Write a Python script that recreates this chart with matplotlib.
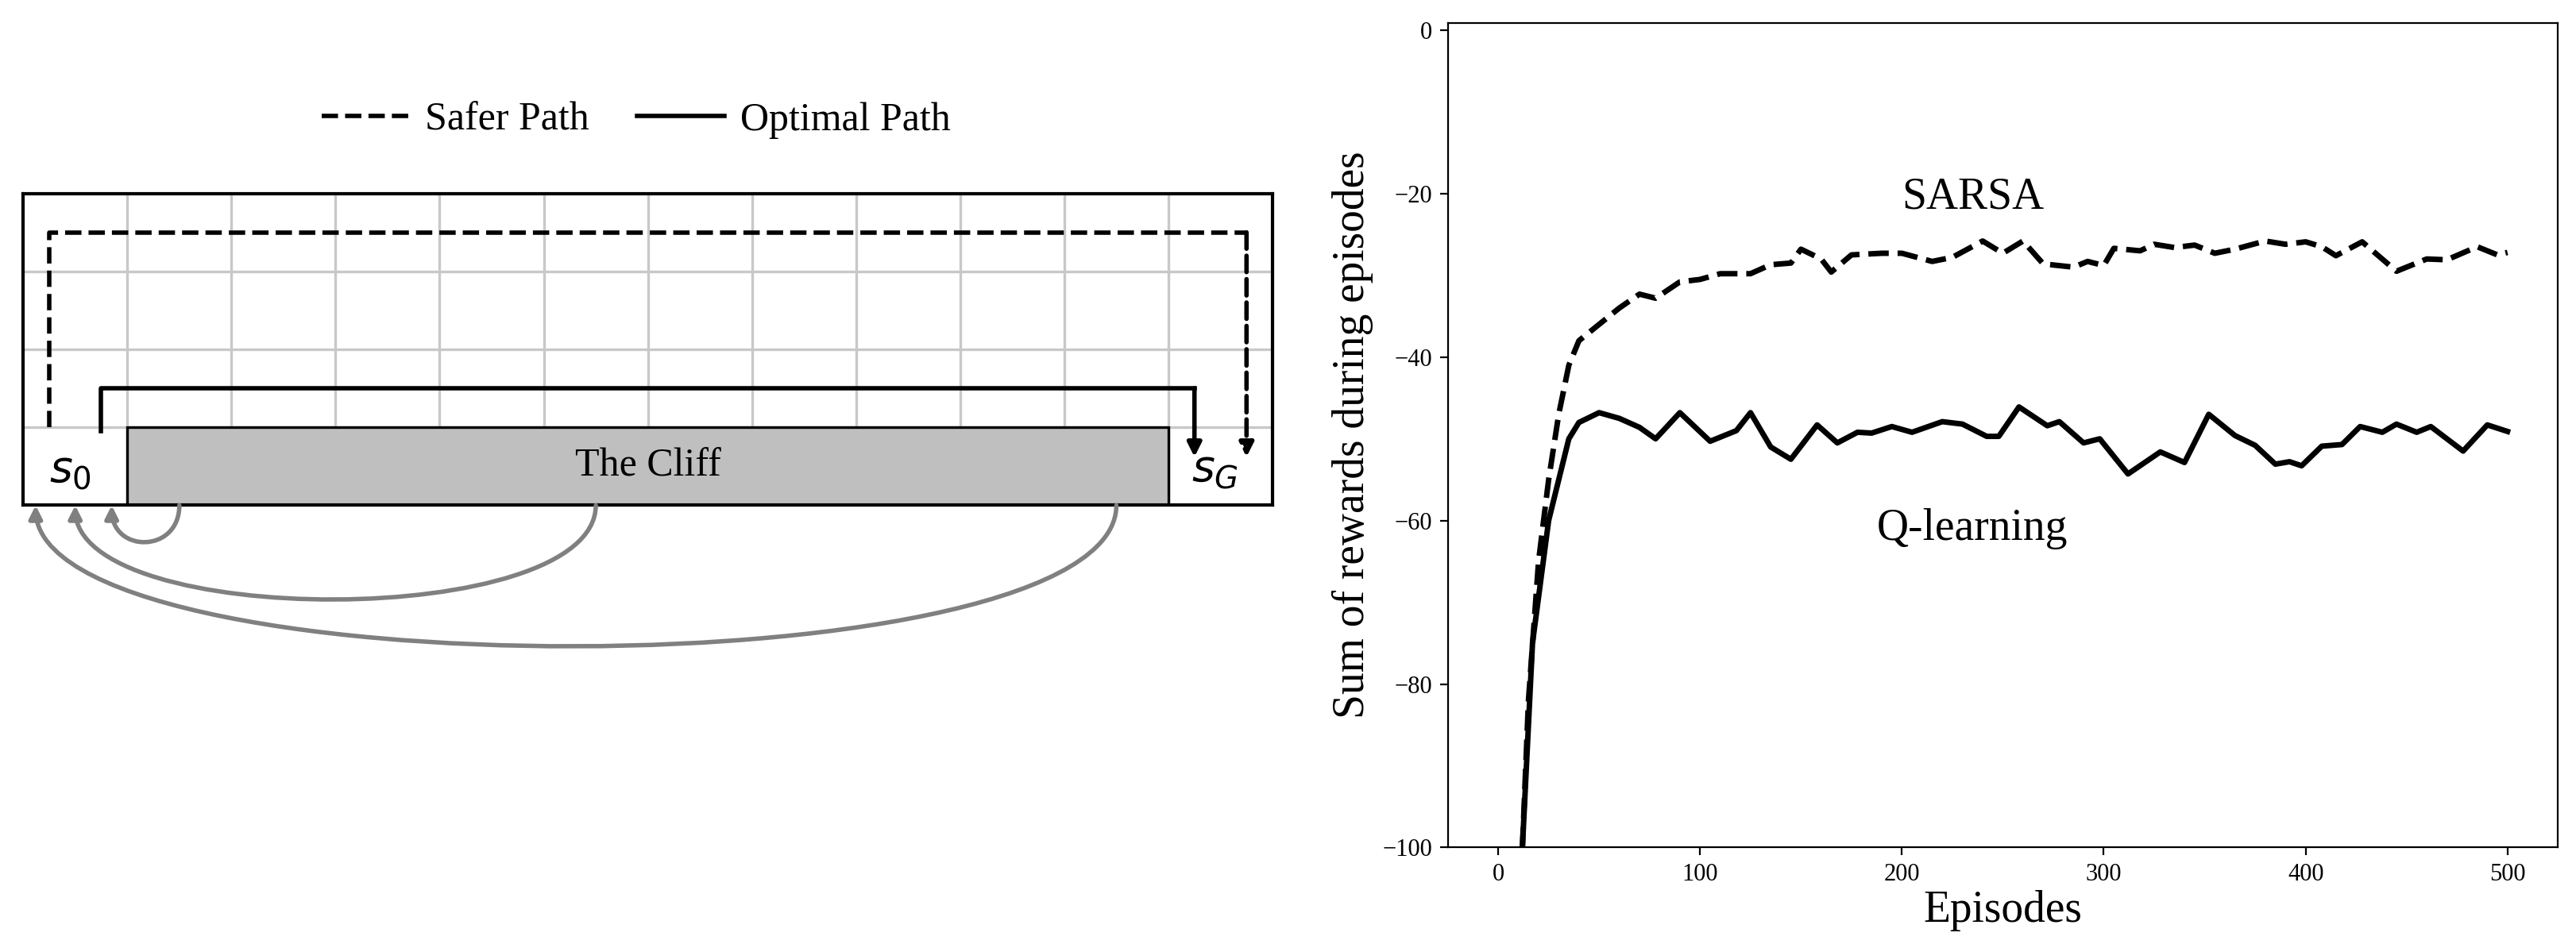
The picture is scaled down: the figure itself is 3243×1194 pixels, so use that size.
import matplotlib
matplotlib.use('Agg')
import matplotlib.pyplot as plt
from matplotlib.patches import Rectangle, FancyArrowPatch
from matplotlib.path import Path
from matplotlib.lines import Line2D

plt.rcParams['font.family'] = ['Liberation Serif', 'DejaVu Serif']
plt.rcParams['mathtext.fontset'] = 'dejavusans'

# ---------------------------------------------------------------------------
# Data
# ---------------------------------------------------------------------------
sarsa_ep = [12, 15, 20, 25, 30, 35, 40, 50, 60, 70, 78, 90, 100, 110, 125, 135,
            145, 150, 160, 165, 175, 190, 200, 215, 225, 240, 250, 260, 270, 285,
            292, 300, 305, 318, 325, 335, 345, 355, 365, 380, 390, 400, 408, 415,
            428, 445, 460, 470, 485, 495, 500]
sarsa_val = [-100, -82, -65, -55, -47, -41, -38, -36, -34, -32.3, -32.8, -30.8,
             -30.5, -29.8, -29.8, -28.7, -28.5, -26.8, -28, -29.6, -27.5, -27.3,
             -27.3, -28.3, -27.8, -25.8, -27.3, -25.8, -28.6, -29, -28.3, -28.8,
             -26.7, -27.0, -26.2, -26.6, -26.3, -27.3, -26.8, -25.8, -26.2, -25.9,
             -26.5, -27.6, -25.9, -29.5, -28, -28.1, -26.5, -27.5, -27.2]

qlearn_ep = [12, 17, 25, 35, 40, 50, 60, 70, 78, 90, 105, 118, 125, 135, 145,
             158, 168, 178, 185, 195, 205, 220, 230, 242, 248, 258, 272, 278, 290,
             298, 312, 328, 340, 352, 365, 375, 385, 392, 398, 408, 418, 427, 438,
             445, 455, 462, 478, 490, 500]
qlearn_val = [-100, -75, -60, -50, -48, -46.8, -47.5, -48.6, -50, -46.8, -50.3,
              -49, -46.8, -51, -52.5, -48.3, -50.5, -49.2, -49.3, -48.5, -49.2,
              -47.9, -48.2, -49.7, -49.7, -46.1, -48.4, -47.9, -50.5, -50, -54.3,
              -51.6, -52.9, -47, -49.6, -50.8, -53.1, -52.8, -53.3, -50.9, -50.7,
              -48.5, -49.2, -48.2, -49.2, -48.5, -51.5, -48.3, -49.1]

n_cols, n_rows = 12, 4
cliff_start, cliff_end = 1, 11
# cliff falls: (column where agent falls, landing x at s0, curve depth)
jumps = [(1.5, 0.85, 0.62), (5.5, 0.5, 1.6), (10.5, 0.12, 2.4)]

fig = plt.figure(figsize=(16.215, 5.97), dpi=200)

# ---------------------------------------------------------------------------
# Left: cliff walking grid
# ---------------------------------------------------------------------------
ax = fig.add_axes([0.009, 0.467, 0.485, 0.329])
ax.set_xlim(0, n_cols)
ax.set_ylim(0, n_rows)
for c in range(1, n_cols):
    ax.plot([c, c], [0, n_rows], color='#c8c8c8', lw=1.2, zorder=0)
for r in range(1, n_rows):
    ax.plot([0, n_cols], [r, r], color='#c8c8c8', lw=1.2, zorder=0)
ax.add_patch(Rectangle((cliff_start, 0), cliff_end - cliff_start, 1,
                       facecolor='#bfbfbf', edgecolor='black', lw=1.2, zorder=2))
ax.text(6, 0.5, 'The Cliff', ha='center', va='center', fontsize=18, zorder=3)
ax.text(0.45, 0.45, r'$s_0$', ha='center', va='center', fontsize=20)
ax.text(11.45, 0.45, r'$s_G$', ha='center', va='center', fontsize=20)

# safer path
ax.plot([0.25, 0.25, 11.75], [1.0, 3.5, 3.5], color='black', ls='--', lw=2)
ax.annotate('', xy=(11.75, 0.62), xytext=(11.75, 3.5),
            arrowprops=dict(arrowstyle='-|>', ls='--', lw=2, color='black',
                            mutation_scale=13, shrinkA=0, shrinkB=0))
# optimal path
ax.plot([0.75, 0.75, 11.25], [0.95, 1.5, 1.5], color='black', lw=2)
ax.annotate('', xy=(11.25, 0.62), xytext=(11.25, 1.5),
            arrowprops=dict(arrowstyle='-|>', lw=2, color='black',
                            mutation_scale=13, shrinkA=0, shrinkB=0))

for x0, x1, d in jumps:
    path = Path([(x0, 0), (x0, -d), (x1, -d), (x1, 0)],
                [Path.MOVETO, Path.CURVE4, Path.CURVE4, Path.CURVE4])
    ar = FancyArrowPatch(path=path, arrowstyle='-|>', mutation_scale=12,
                         color='gray', lw=2, shrinkA=0, shrinkB=0,
                         transform=ax.transData, clip_on=False, zorder=4)
    ax.add_patch(ar)

ax.set_xticks([])
ax.set_yticks([])
for s in ax.spines.values():
    s.set_linewidth(1.5)

handles = [Line2D([], [], color='black', ls='--', lw=2),
           Line2D([], [], color='black', lw=2)]
fig.legend(handles, ['Safer Path', 'Optimal Path'], loc='center',
           bbox_to_anchor=(0.247, 0.873), ncol=2, frameon=False, fontsize=18,
           handlelength=2.2, handletextpad=0.4, columnspacing=1.2)

# ---------------------------------------------------------------------------
# Right: reward curves
# ---------------------------------------------------------------------------
ax2 = fig.add_axes([0.562, 0.106, 0.431, 0.87])
ax2.plot(sarsa_ep, sarsa_val, color='black', ls='--', lw=2.5)
ax2.plot(qlearn_ep, qlearn_val, color='black', lw=2.5)
ax2.set_xlim(-25, 525)
ax2.set_ylim(-100, 0.9)
ax2.set_yticks([0, -20, -40, -60, -80, -100])
ax2.set_xticks([0, 100, 200, 300, 400, 500])
ax2.tick_params(labelsize=11)
ax2.text(235, -20.5, 'SARSA', ha='center', va='center', fontsize=20)
ax2.text(235, -61, 'Q-learning', ha='center', va='center', fontsize=20)
ax2.set_xlabel('Episodes', fontsize=20, labelpad=2)
ax2.set_ylabel('Sum of rewards during episodes', fontsize=20, labelpad=4)

fig.savefig('out.png', dpi=200)
